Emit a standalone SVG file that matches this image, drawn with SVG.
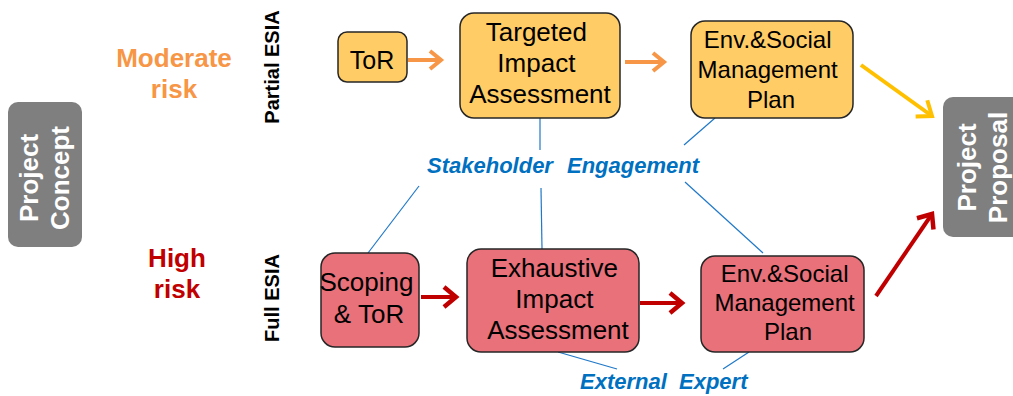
<svg xmlns="http://www.w3.org/2000/svg" width="1013" height="396" viewBox="0 0 1013 396">
  <style>
    text { font-family: "Liberation Sans", Arial, sans-serif; }
    .gray { fill: #7F7F7F; }
    .gray-label { fill: #FFFFFF; font-size: 26px; font-weight: bold; text-anchor: middle; }
    .amber { fill: #FFCC66; stroke: #262626; stroke-width: 1.5; }
    .rose { fill: #E8717A; stroke: #262626; stroke-width: 1.5; }
    .box-text { fill: #000000; text-anchor: middle; }
    .risk { font-size: 26px; font-weight: bold; text-anchor: middle; }
    .track { font-size: 20px; font-weight: bold; text-anchor: middle; fill: #000000; }
    .aside { fill: #0070C0; font-size: 22px; font-weight: bold; font-style: italic; }
    .link { stroke: #1F78C8; stroke-width: 1.2; fill: none; }
    .flow { fill: none; stroke-width: 4; }
  </style>
  <defs>
    <marker id="head-orange" markerUnits="userSpaceOnUse" markerWidth="20" markerHeight="24" refX="0" refY="0" orient="auto" overflow="visible">
      <path d="M-11,-9 L0,0 L-11,9" fill="none" stroke="#F79646" stroke-width="4"/>
    </marker>
    <marker id="head-red" markerUnits="userSpaceOnUse" markerWidth="20" markerHeight="24" refX="0" refY="0" orient="auto" overflow="visible">
      <path d="M-12,-10 L0,0 L-12,10" fill="none" stroke="#C00000" stroke-width="4.5"/>
    </marker>
    <marker id="head-gold" markerUnits="userSpaceOnUse" markerWidth="20" markerHeight="24" refX="0" refY="0" orient="auto" overflow="visible">
      <path d="M-13,-10 L0,0 L-13,10" fill="none" stroke="#FFC000" stroke-width="4"/>
    </marker>
  </defs>

  <!-- thin links to the side activities, and the flow arrows -->
  <g id="connectors">
    <line class="link" x1="540" y1="118" x2="540" y2="150"/>
    <line class="link" x1="541" y1="188" x2="542" y2="249"/>
    <line class="link" x1="715" y1="118" x2="684" y2="145"/>
    <line class="link" x1="685" y1="182" x2="763" y2="253"/>
    <line class="link" x1="368" y1="253" x2="419" y2="186"/>
    <line class="link" x1="558" y1="352" x2="617" y2="369"/>
    <line class="link" x1="749" y1="352" x2="723" y2="369"/>

    <line class="flow" stroke="#F79646" x1="408" y1="60" x2="441" y2="60" marker-end="url(#head-orange)"/>
    <line class="flow" stroke="#F79646" x1="625" y1="62" x2="664" y2="62" marker-end="url(#head-orange)"/>
    <line class="flow" stroke="#C00000" stroke-width="4.5" x1="421" y1="297" x2="456" y2="297" marker-end="url(#head-red)"/>
    <line class="flow" stroke="#C00000" stroke-width="4.5" x1="640" y1="303" x2="682" y2="303" marker-end="url(#head-red)"/>
    <line class="flow" stroke="#FFC000" x1="861" y1="65" x2="932" y2="116" marker-end="url(#head-gold)"/>
    <line class="flow" stroke="#C00000" x1="876" y1="296" x2="932" y2="214" marker-end="url(#head-red)"/>
  </g>

  <g id="project-concept">
    <rect class="gray" x="8" y="102" width="74" height="145" rx="10"/>
    <text class="gray-label" transform="translate(38,178) rotate(-90)">Project</text>
    <text class="gray-label" transform="translate(69,178) rotate(-90)">Concept</text>
  </g>

  <g id="moderate-risk">
    <text class="risk" fill="#F79646" x="174" y="67">Moderate</text>
    <text class="risk" fill="#F79646" x="174" y="98">risk</text>
  </g>

  <g id="high-risk">
    <text class="risk" fill="#C00000" x="177" y="267">High</text>
    <text class="risk" fill="#C00000" x="177" y="298">risk</text>
  </g>

  <g id="partial-esia">
    <text class="track" transform="translate(279,67) rotate(-90)">Partial ESIA</text>
  </g>

  <g id="full-esia">
    <text class="track" transform="translate(279,298) rotate(-90)">Full ESIA</text>
  </g>

  <g id="tor">
    <rect class="amber" x="338" y="32" width="69" height="50" rx="9"/>
    <text class="box-text" x="372" y="69" font-size="25">ToR</text>
  </g>

  <g id="targeted-impact-assessment">
    <rect class="amber" x="460" y="13" width="160" height="105" rx="14"/>
    <text class="box-text" font-size="26">
      <tspan x="540" y="41">Targeted</tspan>
      <tspan x="540" y="72">Impact</tspan>
      <tspan x="540" y="103">Assessment</tspan>
    </text>
  </g>

  <g id="esmp-partial">
    <rect class="amber" x="691" y="21" width="162" height="97" rx="14"/>
    <text class="box-text" font-size="24">
      <tspan x="771" y="48">Env.&amp;Social</tspan>
      <tspan x="771" y="78">Management</tspan>
      <tspan x="771" y="108">Plan</tspan>
    </text>
  </g>

  <g id="scoping-tor">
    <rect class="rose" x="321" y="253" width="98" height="94" rx="14"/>
    <text class="box-text" font-size="26">
      <tspan x="370" y="291">Scoping</tspan>
      <tspan x="369" y="323">&amp; ToR</tspan>
    </text>
  </g>

  <g id="exhaustive-impact-assessment">
    <rect class="rose" x="467" y="249" width="172" height="103" rx="14"/>
    <text class="box-text" font-size="26">
      <tspan x="558" y="277">Exhaustive</tspan>
      <tspan x="558" y="308">Impact</tspan>
      <tspan x="558" y="339">Assessment</tspan>
    </text>
  </g>

  <g id="esmp-full">
    <rect class="rose" x="701" y="256" width="163" height="96" rx="14"/>
    <text class="box-text" font-size="24">
      <tspan x="788" y="282">Env.&amp;Social</tspan>
      <tspan x="788" y="311">Management</tspan>
      <tspan x="788" y="340">Plan</tspan>
    </text>
  </g>

  <g id="project-proposal">
    <rect class="gray" x="943" y="97" width="92" height="140" rx="10"/>
    <text class="gray-label" transform="translate(976,167.5) rotate(-90)">Project</text>
    <text class="gray-label" transform="translate(1007,167.5) rotate(-90)">Proposal</text>
  </g>

  <g id="stakeholder-engagement">
    <text class="aside"><tspan x="427" y="173">Stakeholder</tspan><tspan x="567" y="173">Engagement</tspan></text>
  </g>

  <g id="external-expert">
    <text class="aside"><tspan x="580" y="389">External</tspan><tspan x="679" y="389">Expert</tspan></text>
  </g>
</svg>
